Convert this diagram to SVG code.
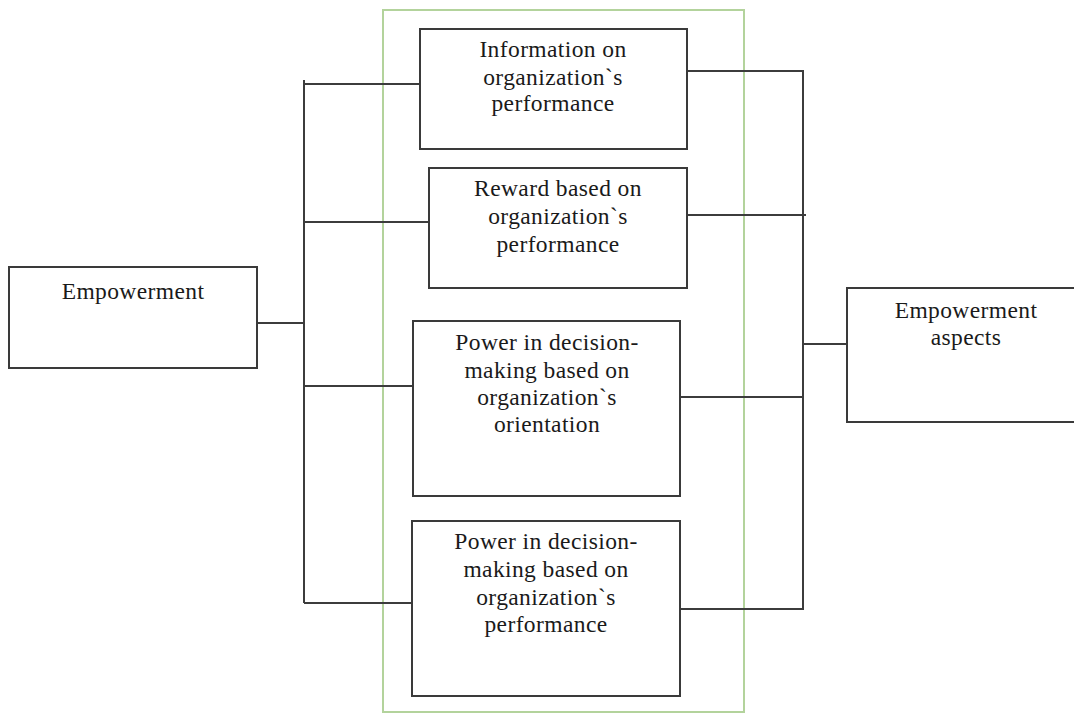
<svg xmlns="http://www.w3.org/2000/svg" width="1074" height="715" viewBox="0 0 1074 715">
  <style>
    .box { fill: #ffffff; stroke: #3a3a3a; stroke-width: 2; }
    .frame { fill: none; stroke: #b3d39c; stroke-width: 2; }
    .wire { fill: none; stroke: #3c3c3c; stroke-width: 2; }
    .label { font-family: "Liberation Serif", "Times New Roman", serif; font-size: 23.5px; letter-spacing: 0.4px; fill: #1a1a1a; text-anchor: middle; }
  </style>
  <rect width="1074" height="715" fill="#ffffff"/>

  <!-- grouping frame around the four dimensions -->
  <rect id="dimensions-frame" class="frame" x="383" y="10" width="361" height="702"/>

  <g id="connectors">
    <!-- left bus -->
    <line class="wire" x1="257" y1="323" x2="304" y2="323"/>
    <line class="wire" x1="304" y1="80" x2="304" y2="603"/>
    <line class="wire" x1="304" y1="84" x2="420" y2="84"/>
    <line class="wire" x1="304" y1="222" x2="429" y2="222"/>
    <line class="wire" x1="304" y1="386" x2="413" y2="386"/>
    <line class="wire" x1="304" y1="603" x2="412" y2="603"/>
    <!-- right bus -->
    <polyline class="wire" points="687,71 803,71 803,609 680,609"/>
    <line class="wire" x1="687" y1="215" x2="806" y2="215"/>
    <line class="wire" x1="680" y1="397" x2="803" y2="397"/>
    <line class="wire" x1="803" y1="344" x2="847" y2="344"/>
  </g>

  <g id="empowerment">
    <rect class="box" x="9" y="267" width="248" height="101"/>
    <text class="label" x="133" y="299">Empowerment</text>
  </g>

  <g id="information">
    <rect class="box" x="420" y="29" width="267" height="120"/>
    <text class="label" x="553" y="57">Information on</text>
    <text class="label" x="553" y="85">organization`s</text>
    <text class="label" x="553" y="111">performance</text>
  </g>

  <g id="reward">
    <rect class="box" x="429" y="168" width="258" height="120"/>
    <text class="label" x="558" y="196">Reward based on</text>
    <text class="label" x="558" y="224">organization`s</text>
    <text class="label" x="558" y="252">performance</text>
  </g>

  <g id="power-orientation">
    <rect class="box" x="413" y="321" width="267" height="175"/>
    <text class="label" x="547" y="350">Power in decision-</text>
    <text class="label" x="547" y="378">making based on</text>
    <text class="label" x="547" y="405">organization`s</text>
    <text class="label" x="547" y="432">orientation</text>
  </g>

  <g id="power-performance">
    <rect class="box" x="412" y="521" width="268" height="175"/>
    <text class="label" x="546" y="549">Power in decision-</text>
    <text class="label" x="546" y="577">making based on</text>
    <text class="label" x="546" y="605">organization`s</text>
    <text class="label" x="546" y="632">performance</text>
  </g>

  <g id="empowerment-aspects">
    <rect class="box" x="847" y="288" width="240" height="134"/>
    <text class="label" x="966" y="318">Empowerment</text>
    <text class="label" x="966" y="345">aspects</text>
  </g>
</svg>
